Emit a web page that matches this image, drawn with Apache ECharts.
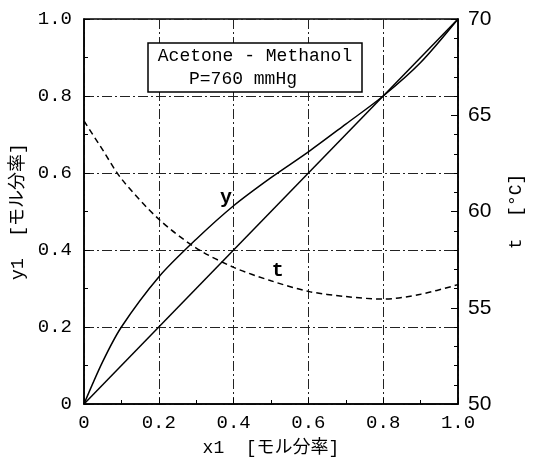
<!DOCTYPE html>
<html>
<head>
<meta charset="utf-8">
<script src="https://cdn.jsdelivr.net/npm/echarts@6/dist/echarts.min.js"></script>
<style>
html,body{margin:0;padding:0;background:#fff;}
#chart{width:533px;height:472px;}
</style>
</head>
<body>
<div id="chart"></div>
<script>
// Liquid mole fraction of acetone
const x1 = [0, 0.05, 0.1, 0.2, 0.3, 0.4, 0.5, 0.6, 0.7, 0.8, 0.9, 1.0];
// Vapour mole fraction of acetone
const y1 = [0, 0.11, 0.20, 0.33, 0.428, 0.515, 0.588, 0.655, 0.727, 0.80, 0.887, 1.0];
// Boiling temperature [°C]
const tC = [64.7, 63.2, 61.7, 59.6, 58.1, 57.1, 56.4, 55.85, 55.58, 55.45, 55.7, 56.2];
// Diagonal
const diagX = [0, 1];
const diagY = [0, 1];
// Curve labels
const yLabelPos = [0.38, 0.535];
const tLabelPos = [0.518, 56.9];

const monoFont = '"Liberation Mono", "DejaVu Sans Mono", "Noto Sans CJK JP", monospace';
const gridDash = [10, 3, 2, 3];

const chart = echarts.init(document.getElementById('chart'), null, {renderer: 'canvas'});
const fmt = v => (v === 0 ? '0' : v.toFixed(1));

const option = {
  backgroundColor: '#fff',
  animation: false,
  grid: {left: 84, right: 65, top: 19, bottom: 68, show: true, borderColor: '#000', borderWidth: 1.5, backgroundColor: 'transparent'},
  xAxis: {
    type: 'value', min: 0, max: 1, interval: 0.2,
    name: 'x1  [モル分率]', nameLocation: 'middle', nameGap: 35,
    nameTextStyle: {fontFamily: monoFont, fontSize: 18, color: '#000'},
    axisLine: {lineStyle: {color: '#000', width: 1.5}},
    axisTick: {show: true, inside: true, length: 6, lineStyle: {color: '#000'}},
    minorTick: {show: true, splitNumber: 2, length: 4, lineStyle: {color: '#000'}},
    axisLabel: {formatter: fmt, fontFamily: monoFont, fontSize: 19, color: '#000', margin: 9},
    splitLine: {show: true, lineStyle: {color: '#222', width: 1, type: gridDash}}
  },
  yAxis: [{
    type: 'value', min: 0, max: 1, interval: 0.2, position: 'left',
    name: 'y1  [モル分率]', nameLocation: 'middle', nameGap: 56, nameRotate: 90,
    nameTextStyle: {fontFamily: monoFont, fontSize: 18, color: '#000'},
    axisLine: {show: true, lineStyle: {color: '#000', width: 1.5}},
    axisTick: {show: true, inside: true, length: 6, lineStyle: {color: '#000'}},
    minorTick: {show: true, splitNumber: 2, length: 4, lineStyle: {color: '#000'}},
    axisLabel: {formatter: fmt, fontFamily: monoFont, fontSize: 19, color: '#000', margin: 12},
    splitLine: {show: true, lineStyle: {color: '#222', width: 1, type: gridDash}}
  }, {
    type: 'value', min: 50, max: 70, interval: 5, position: 'right',
    name: 't  [°C]', nameLocation: 'middle', nameGap: 49, nameRotate: 90,
    nameTextStyle: {fontFamily: monoFont, fontSize: 18, color: '#000'},
    axisLine: {show: true, lineStyle: {color: '#000', width: 1.5}},
    axisTick: {show: true, inside: true, length: 7, lineStyle: {color: '#000'}},
    minorTick: {show: true, splitNumber: 5, length: 4, lineStyle: {color: '#000'}},
    axisLabel: {fontFamily: '"Liberation Sans Narrow", "Liberation Sans", Arial, sans-serif', fontSize: 21, color: '#000', margin: 10},
    splitLine: {show: false}
  }],
  graphic: [{
    type: 'group',
    children: [
      {type: 'rect', shape: {x: 148, y: 43, width: 214, height: 49}, style: {fill: '#fff', stroke: '#000', lineWidth: 1.5}, z: 100},
      {type: 'text', x: 255, y: 56, style: {text: 'Acetone - Methanol', font: '18px ' + monoFont, fill: '#000', textAlign: 'center', textVerticalAlign: 'middle'}, z: 101},
      {type: 'text', x: 243, y: 79, style: {text: 'P=760 mmHg', font: '18px ' + monoFont, fill: '#000', textAlign: 'center', textVerticalAlign: 'middle'}, z: 101}
    ]
  }],
  series: [{
    type: 'line', name: 'diag', yAxisIndex: 0, showSymbol: false, smooth: false,
    data: diagX.map((v, i) => [v, diagY[i]]),
    lineStyle: {color: '#000', width: 1.5}
  }, {
    type: 'line', name: 'y', yAxisIndex: 0, showSymbol: false, smooth: 0.3,
    data: x1.map((v, i) => [v, y1[i]]),
    lineStyle: {color: '#000', width: 1.5},
    markPoint: {
      symbol: 'circle', symbolSize: 0,
      label: {show: true, formatter: 'y', fontFamily: monoFont, fontSize: 20, fontWeight: 'bold', color: '#000', position: 'inside'},
      data: [{coord: yLabelPos}]
    }
  }, {
    type: 'line', name: 't', yAxisIndex: 1, showSymbol: false, smooth: 0.3,
    data: x1.map((v, i) => [v, tC[i]]),
    lineStyle: {color: '#000', width: 1.5, type: [6, 4]},
    markPoint: {
      symbol: 'circle', symbolSize: 0,
      label: {show: true, formatter: 't', fontFamily: monoFont, fontSize: 20, fontWeight: 'bold', color: '#000', position: 'inside'},
      data: [{coord: tLabelPos}]
    }
  }]
};
chart.setOption(option);
</script>
</body>
</html>
